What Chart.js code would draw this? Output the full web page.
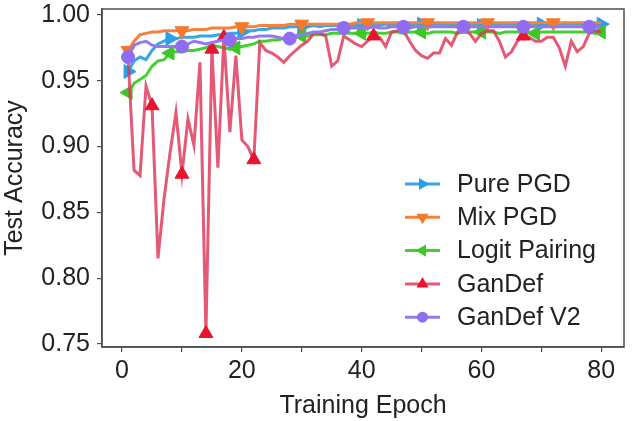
<!DOCTYPE html>
<html>
<head>
<meta charset="utf-8">
<script src="https://cdn.jsdelivr.net/npm/chart.js@4.4.1/dist/chart.umd.min.js"></script>
<style>
  html, body { margin: 0; padding: 0; background: #fff; }
  #wrap { width: 633px; height: 421px; }
</style>
</head>
<body>
<div id="wrap"><canvas id="grafik" width="633" height="421"></canvas></div>
<script>
// === DATA ===
const epochs = Array.from({ length: 80 }, (_, i) => i + 1);

const purePgd = [
  0.957, 0.965, 0.968, 0.966, 0.973, 0.978, 0.980, 0.982, 0.982, 0.983,
  0.983, 0.983, 0.984, 0.984, 0.984, 0.985, 0.985, 0.986, 0.986, 0.987,
  0.988, 0.988, 0.989, 0.989, 0.990, 0.990, 0.990, 0.991, 0.991, 0.991,
  0.991, 0.992, 0.991, 0.992, 0.992, 0.992, 0.991, 0.992, 0.992, 0.992,
  0.992, 0.992, 0.992, 0.993, 0.992, 0.992, 0.993, 0.992, 0.993, 0.993,
  0.992, 0.993, 0.993, 0.993, 0.992, 0.993, 0.993, 0.993, 0.993, 0.992,
  0.993, 0.993, 0.993, 0.993, 0.993, 0.993, 0.993, 0.992, 0.993, 0.993,
  0.993, 0.993, 0.993, 0.993, 0.993, 0.993, 0.993, 0.993, 0.993, 0.993
];

const mixPgd = [
  0.973, 0.980, 0.985, 0.986, 0.987, 0.987, 0.988, 0.988, 0.988, 0.988,
  0.988, 0.989, 0.989, 0.989, 0.990, 0.990, 0.990, 0.990, 0.991, 0.991,
  0.991, 0.991, 0.992, 0.992, 0.992, 0.992, 0.992, 0.993, 0.993, 0.993,
  0.993, 0.993, 0.993, 0.993, 0.993, 0.993, 0.994, 0.993, 0.994, 0.994,
  0.994, 0.994, 0.994, 0.994, 0.994, 0.994, 0.994, 0.994, 0.994, 0.994,
  0.994, 0.994, 0.994, 0.994, 0.994, 0.994, 0.994, 0.994, 0.994, 0.994,
  0.994, 0.994, 0.994, 0.994, 0.994, 0.994, 0.994, 0.994, 0.994, 0.994,
  0.994, 0.994, 0.994, 0.994, 0.994, 0.994, 0.994, 0.994, 0.994, 0.994
];

const logitPairing = [
  0.941, 0.948, 0.951, 0.954, 0.961, 0.965, 0.966, 0.971, 0.972, 0.972,
  0.973, 0.973, 0.974, 0.975, 0.977, 0.976, 0.975, 0.974, 0.975, 0.976,
  0.977, 0.978, 0.980, 0.980, 0.981, 0.981, 0.982, 0.983, 0.983, 0.984,
  0.984, 0.985, 0.985, 0.985, 0.986, 0.986, 0.986, 0.986, 0.986, 0.986,
  0.986, 0.987, 0.986, 0.986, 0.987, 0.987, 0.986, 0.987, 0.987, 0.987,
  0.986, 0.987, 0.987, 0.987, 0.987, 0.986, 0.987, 0.987, 0.987, 0.987,
  0.987, 0.987, 0.986, 0.987, 0.987, 0.987, 0.987, 0.987, 0.986, 0.987,
  0.987, 0.987, 0.987, 0.987, 0.987, 0.987, 0.987, 0.987, 0.986, 0.987
];

const ganDef = [
  0.968, 0.882, 0.878, 0.946, 0.931, 0.815, 0.860, 0.895, 0.926, 0.879,
  0.921, 0.901, 0.964, 0.758, 0.974, 0.884, 0.983, 0.911, 0.969, 0.905,
  0.900, 0.890, 0.979, 0.973, 0.971, 0.968, 0.964, 0.969, 0.973, 0.977,
  0.980, 0.986, 0.986, 0.984, 0.961, 0.965, 0.984, 0.981, 0.978, 0.976,
  0.980, 0.984, 0.983, 0.976, 0.987, 0.988, 0.988, 0.980, 0.973, 0.969,
  0.967, 0.971, 0.971, 0.982, 0.977, 0.987, 0.988, 0.986, 0.980, 0.986,
  0.988, 0.988, 0.980, 0.968, 0.972, 0.980, 0.984, 0.983, 0.980, 0.980,
  0.983, 0.983, 0.975, 0.961, 0.980, 0.972, 0.976, 0.986, 0.988, 0.987
];

const ganDefV2 = [
  0.968, 0.977, 0.979, 0.980, 0.977, 0.976, 0.976, 0.976, 0.976, 0.976,
  0.978, 0.980, 0.979, 0.978, 0.979, 0.980, 0.981, 0.981, 0.982, 0.982,
  0.983, 0.983, 0.984, 0.984, 0.984, 0.983, 0.982, 0.982, 0.984, 0.985,
  0.986, 0.987, 0.987, 0.988, 0.989, 0.989, 0.990, 0.990, 0.990, 0.990,
  0.990, 0.991, 0.990, 0.990, 0.991, 0.991, 0.991, 0.990, 0.991, 0.991,
  0.991, 0.991, 0.991, 0.991, 0.991, 0.991, 0.991, 0.991, 0.991, 0.991,
  0.991, 0.991, 0.991, 0.991, 0.991, 0.991, 0.991, 0.991, 0.991, 0.991,
  0.991, 0.991, 0.991, 0.991, 0.991, 0.991, 0.991, 0.991, 0.991, 0.991
];

const xTicks = [0, 10, 20, 30, 40, 50, 60, 70, 80];
const yTicks = [0.75, 0.80, 0.85, 0.90, 0.95, 1.00];

// === GAYA ===
const FONT = '"Liberation Sans", Arial, sans-serif';
const INK = '#222';
const SPINE = '#4a4f4f';

const seri = [
  { label: 'Pure PGD', data: purePgd, color: '#39a6e3', mark: '#2e9ee6', style: 'triangle', rot: 90, r: 8, at: [0, 7, 19, 29, 39, 49, 59, 69, 79] },
  { label: 'Mix PGD', data: mixPgd, color: '#f5813c', mark: '#f5792a', style: 'triangle', rot: 180, r: 8, at: [0, 9, 19, 29, 40, 50, 60, 71] },
  { label: 'Logit Pairing', data: logitPairing, color: '#45cf30', mark: '#3cc824', style: 'triangle', rot: 270, r: 8, at: [0, 7, 18, 29, 39, 49, 59, 68, 79] },
  { label: 'GanDef', data: ganDef, color: 'rgba(222, 52, 88, 0.82)', mark: '#e8142f', style: 'triangle', rot: 0, r: 8, at: [4, 9, 13, 14, 16, 21, 41, 66] },
  { label: 'GanDef V2', data: ganDefV2, color: '#9478ee', mark: '#8f6cf0', style: 'circle', rot: 0, r: 6.5, at: [0, 9, 17, 27, 36, 46, 56, 66, 77] }
];

// === PLUGIN: latar, bingkai, legenda ===
const latarPutih = {
  id: 'latarPutih',
  beforeDraw(chart) {
    const c = chart.ctx;
    c.save();
    c.fillStyle = '#fff';
    c.fillRect(0, 0, chart.width, chart.height);
    c.restore();
  }
};

const bingkai = {
  id: 'bingkai',
  afterDatasetsDraw(chart) {
    const { left, top, right, bottom } = chart.chartArea;
    const c = chart.ctx;
    c.save();
    c.strokeStyle = SPINE;
    c.lineWidth = 1.5;
    c.strokeRect(left, top, right - left, bottom - top);
    c.restore();
  }
};

function gambarMarker(c, style, rot, x, y, r) {
  c.beginPath();
  if (style === 'circle') {
    c.arc(x, y, r, 0, Math.PI * 2);
  } else {
    let rad = rot * Math.PI / 180;
    for (let k = 0; k < 3; k++) {
      const px = x + Math.sin(rad) * r;
      const py = y - Math.cos(rad) * r;
      if (k === 0) c.moveTo(px, py); else c.lineTo(px, py);
      rad += 2 * Math.PI / 3;
    }
    c.closePath();
  }
  c.fill();
}

const legendaDalam = {
  id: 'legendaDalam',
  afterDraw(chart) {
    const c = chart.ctx;
    const x0 = 405, x1 = 440, tx = 457;
    const y0 = 184, dy = 33.3;
    c.save();
    c.font = '25px ' + FONT;
    c.textBaseline = 'middle';
    c.textAlign = 'left';
    seri.forEach((s, i) => {
      const y = y0 + i * dy;
      c.strokeStyle = s.color;
      c.lineWidth = 3;
      c.beginPath();
      c.moveTo(x0, y);
      c.lineTo(x1, y);
      c.stroke();
      c.fillStyle = s.mark;
      gambarMarker(c, s.style, s.rot, (x0 + x1) / 2, y, s.r - 1);
      c.fillStyle = INK;
      c.fillText(s.label, tx, y + 1);
    });
    c.restore();
  }
};

// === CHART ===
const datasets = seri.map((s, i) => ({
  label: s.label,
  data: epochs.map((e, j) => ({ x: e, y: s.data[j] })),
  borderColor: s.color,
  backgroundColor: s.mark,
  borderWidth: 3,
  pointStyle: s.style,
  rotation: s.rot,
  pointBackgroundColor: s.mark,
  pointBorderColor: s.mark,
  pointBorderWidth: 1,
  pointRadius: (ctx) => (s.at.includes(ctx.dataIndex) ? s.r : 0),
  tension: 0,
  order: seri.length - i
}));

new Chart(document.getElementById('grafik').getContext('2d'), {
  type: 'line',
  data: { datasets },
  options: {
    responsive: false,
    animation: false,
    devicePixelRatio: 1,
    layout: { padding: { top: 5, right: 6, left: 0, bottom: 0 } },
    plugins: { legend: { display: false }, tooltip: { enabled: false } },
    scales: {
      x: {
        type: 'linear',
        min: -3.35,
        max: 83.8,
        afterBuildTicks: (sc) => { sc.ticks = xTicks.map(v => ({ value: v })); },
        afterFit: (sc) => { sc.height = 74; sc.paddingLeft = 0; sc.paddingRight = 0; },
        border: { display: true, color: SPINE, width: 1.5 },
        grid: { drawOnChartArea: false, drawTicks: true, tickLength: 5, color: SPINE, lineWidth: 1.2 },
        ticks: {
          autoSkip: false, maxRotation: 0, padding: 4, color: INK,
          font: { family: FONT, size: 25 },
          callback: (v) => (v % 20 === 0 ? String(v) : '')
        },
        title: { display: true, text: 'Training Epoch', color: INK, font: { family: FONT, size: 25 }, padding: { top: 0, bottom: 0 } }
      },
      y: {
        min: 0.7477,
        max: 1.0045,
        afterBuildTicks: (sc) => { sc.ticks = yTicks.map(v => ({ value: v })); },
        afterFit: (sc) => { sc.width = 102; sc.paddingTop = 0; sc.paddingBottom = 0; },
        border: { display: true, color: SPINE, width: 1.5 },
        grid: { drawOnChartArea: false, drawTicks: true, tickLength: 5, color: SPINE, lineWidth: 1.2 },
        ticks: {
          padding: 7, color: INK,
          font: { family: FONT, size: 25 },
          callback: (v) => Number(v).toFixed(2)
        },
        title: { display: true, text: 'Test Accuracy', color: INK, font: { family: FONT, size: 25 }, padding: { top: 0, bottom: 0 } }
      }
    }
  },
  plugins: [latarPutih, bingkai, legendaDalam]
});
</script>
</body>
</html>
